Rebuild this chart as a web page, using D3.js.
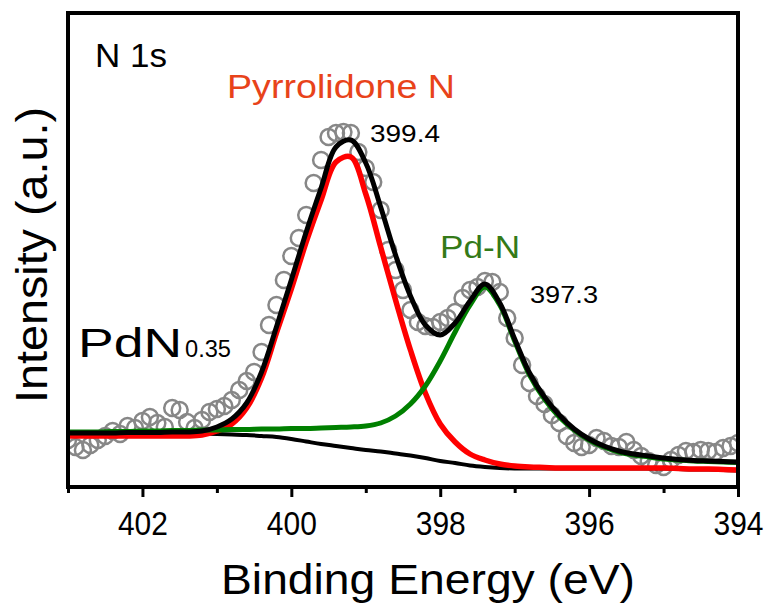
<!DOCTYPE html>
<html>
<head>
<meta charset="utf-8">
<script src="https://cdn.jsdelivr.net/npm/d3@7"></script>
<style>
  html, body { margin: 0; padding: 0; background: #fff; }
  svg { display: block; font-family: "Liberation Sans", Arial, sans-serif; }
</style>
</head>
<body>
<svg id="chart" width="779" height="607"></svg>
<script>
// N 1s spectrum of PdN0.35, binding energy (eV) vs intensity (a.u.)
const dataEV = [403.0, 402.9, 402.8, 402.7, 402.6, 402.5, 402.4, 402.3, 402.2, 402.1,
  402.0, 401.9, 401.8, 401.7, 401.6, 401.5, 401.4, 401.3, 401.2, 401.1,
  401.0, 400.9, 400.8, 400.7, 400.6, 400.5, 400.4, 400.3, 400.2, 400.1,
  400.0, 399.9, 399.8, 399.7, 399.6, 399.5, 399.4, 399.3, 399.2, 399.1,
  399.0, 398.9, 398.8, 398.7, 398.6, 398.5, 398.4, 398.3, 398.2, 398.1,
  398.0, 397.9, 397.8, 397.7, 397.6, 397.5, 397.4, 397.3, 397.2, 397.1,
  397.0, 396.9, 396.8, 396.7, 396.6, 396.5, 396.4, 396.3, 396.2, 396.1,
  396.0, 395.9, 395.8, 395.7, 395.6, 395.5, 395.4, 395.3, 395.2, 395.1,
  395.0, 394.9, 394.8, 394.7, 394.6, 394.5, 394.4, 394.3, 394.2, 394.1, 394.0];
const dataCounts = [47, 40, 37, 42, 47, 51, 56, 53, 61, 59,
  66, 70, 64, 60, 79, 77, 65, 59, 67, 75,
  78, 81, 87, 97, 106, 115, 135, 162, 182, 207,
  231, 249, 272, 304, 327, 350, 354, 355, 354, 335,
  319, 305, 277, 237, 217, 197, 177, 165, 161, 160,
  165, 169, 175, 189, 197, 200, 206, 205, 195, 169,
  149, 122, 104, 91, 83, 72, 64, 51, 44, 40,
  42, 49, 46, 41, 40, 45, 37, 31, 26, 22,
  20, 27, 32, 36, 35, 37, 36, 35, 39, 41, 44];

// fitted curves
const fitEV = [403.0, 402.8, 402.6, 402.4, 402.2, 402.0, 401.8, 401.6, 401.4, 401.2,
  401.0, 400.8, 400.6, 400.4, 400.2, 400.0, 399.8, 399.6, 399.4, 399.2,
  399.0, 398.8, 398.6, 398.4, 398.2, 398.0, 397.8, 397.6, 397.4, 397.2,
  397.0, 396.8, 396.6, 396.4, 396.2, 396.0, 395.8, 395.6, 395.4, 395.2,
  395.0, 394.8, 394.6, 394.4, 394.2, 394.0];
const envelope = [54, 54, 54, 54, 54.5, 54.5, 54.5, 55, 55, 56,
  60, 68, 84, 115, 160, 207, 255, 299, 340, 347,
  324, 280, 232, 191, 162, 152, 164, 186, 203, 184,
  148, 114, 90, 72, 58, 48, 41, 36, 33, 31,
  29, 27.5, 26.5, 26, 25.5, 25];
const pyrrolidoneN = [51, 51, 51, 51, 51, 51, 51, 51, 51, 52,
  56, 63, 79, 109, 154, 198, 245, 287, 325, 330,
  293, 240, 187, 137, 94, 63, 45, 33, 27, 23,
  21, 20, 19.5, 19, 19, 19, 19, 19, 19, 19,
  19, 18.5, 18, 18, 17.5, 17];
const pdN = [55, 55, 55, 55.5, 55.5, 56, 56, 56.5, 56.5, 57,
  57, 57.5, 57.5, 58, 58, 58.5, 58.5, 59, 59.5, 60,
  61, 64, 71, 83, 101, 126, 155, 182, 200, 182,
  146, 112, 88, 70, 57, 47, 40, 35, 32, 30,
  28, 27, 26, 25.5, 25, 24.5];
const background = [55, 55, 55, 55, 54.5, 54.5, 54.5, 54, 54, 53.5,
  53, 52.5, 52, 51, 50, 48, 45.5, 43, 41, 39,
  37, 35.5, 33.5, 31.5, 29, 26, 24, 21.5, 20, 19,
  18.5, 18.5, 18.5, 18.5, 18.5, 18.5, 18.5, 18.5, 18.5, 18.5,
  18.5, 18, 17.5, 17.5, 17, 16.5];

const majorTicks = [402, 400, 398, 396, 394];
const minorTicks = [403, 401, 399, 397, 395];

const svg = d3.select('#chart');
const plotLeft = 68, plotRight = 738, plotTop = 13, plotBottom = 487;

const x = d3.scaleLinear().domain([403, 394]).range([plotLeft, plotRight]);
const y = d3.scaleLinear().domain([0, 474]).range([plotBottom, plotTop]);

svg.append('defs').append('clipPath').attr('id', 'plotClip')
  .append('rect')
  .attr('x', plotLeft).attr('y', plotTop)
  .attr('width', plotRight - plotLeft).attr('height', plotBottom - plotTop);

const plot = svg.append('g').attr('clip-path', 'url(#plotClip)');

// measured points
plot.append('g').selectAll('circle')
  .data(dataEV)
  .enter()
  .append('circle')
  .attr('cx', (d) => x(d))
  .attr('cy', (d, i) => y(dataCounts[i]))
  .attr('r', 8)
  .attr('fill', 'none')
  .attr('stroke', '#878787')
  .attr('stroke-width', 2.5);

const line = (vals) => d3.line()
  .x((d) => x(d))
  .y((d, i) => y(vals[i]))
  .curve(d3.curveCatmullRom.alpha(0.5))(fitEV);

// background, components, envelope
plot.append('path').attr('d', line(background))
  .attr('fill', 'none').attr('stroke', '#000').attr('stroke-width', 4);
plot.append('path').attr('d', line(pyrrolidoneN))
  .attr('fill', 'none').attr('stroke', '#ff0000').attr('stroke-width', 5.5);
plot.append('path').attr('d', line(pdN))
  .attr('fill', 'none').attr('stroke', '#008000').attr('stroke-width', 5);
plot.append('path').attr('d', line(envelope))
  .attr('fill', 'none').attr('stroke', '#000').attr('stroke-width', 5);

// axes
const xAxis = svg.append('g')
  .attr('transform', `translate(0,${plotBottom})`)
  .call(d3.axisBottom(x).tickValues(majorTicks).tickSize(10).tickFormat(d3.format('d')));
xAxis.select('.domain').remove();
xAxis.selectAll('line').attr('stroke', '#000').attr('stroke-width', 3);
xAxis.selectAll('text')
  .attr('y', 48).attr('dy', 0)
  .attr('fill', '#000')
  .attr('textLength', 50).attr('lengthAdjust', 'spacingAndGlyphs')
  .style('font-size', '34px')
  .style('font-family', '"Liberation Sans", Arial, sans-serif');

const xMinor = svg.append('g')
  .attr('transform', `translate(0,${plotBottom})`)
  .call(d3.axisBottom(x).tickValues(minorTicks).tickSize(6).tickFormat(''));
xMinor.select('.domain').remove();
xMinor.selectAll('line').attr('stroke', '#000').attr('stroke-width', 3);

// frame
svg.append('rect')
  .attr('x', plotLeft).attr('y', plotTop)
  .attr('width', plotRight - plotLeft).attr('height', plotBottom - plotTop)
  .attr('fill', 'none').attr('stroke', '#000').attr('stroke-width', 4);

// axis titles
svg.append('text')
  .attr('x', 428).attr('y', 594)
  .attr('text-anchor', 'middle')
  .attr('textLength', 414).attr('lengthAdjust', 'spacingAndGlyphs')
  .style('font-size', '42px')
  .text('Binding Energy (eV)');

svg.append('text')
  .attr('transform', 'translate(47,255) rotate(-90)')
  .attr('text-anchor', 'middle')
  .attr('textLength', 296).attr('lengthAdjust', 'spacingAndGlyphs')
  .style('font-size', '44px')
  .text('Intensity (a.u.)');

// annotations
svg.append('text').attr('x', 95).attr('y', 67)
  .attr('textLength', 72).attr('lengthAdjust', 'spacingAndGlyphs')
  .style('font-size', '33px').text('N 1s');

svg.append('text').attr('x', 227).attr('y', 98)
  .attr('textLength', 228).attr('lengthAdjust', 'spacingAndGlyphs')
  .attr('fill', '#e8431a')
  .style('font-size', '33px').text('Pyrrolidone N');

svg.append('text').attr('x', 370).attr('y', 142)
  .attr('textLength', 70).attr('lengthAdjust', 'spacingAndGlyphs')
  .style('font-size', '24px').text('399.4');

svg.append('text').attr('x', 440).attr('y', 258)
  .attr('textLength', 80).attr('lengthAdjust', 'spacingAndGlyphs')
  .attr('fill', '#347a18')
  .style('font-size', '31px').text('Pd-N');

svg.append('text').attr('x', 530).attr('y', 303)
  .attr('textLength', 68).attr('lengthAdjust', 'spacingAndGlyphs')
  .style('font-size', '24px').text('397.3');

const formula = svg.append('text').attr('x', 78).attr('y', 357);
formula.append('tspan')
  .attr('textLength', 104).attr('lengthAdjust', 'spacingAndGlyphs')
  .style('font-size', '40px').text('PdN');
formula.append('tspan')
  .attr('dx', 3)
  .attr('textLength', 46).attr('lengthAdjust', 'spacingAndGlyphs')
  .style('font-size', '24px').text('0.35');
</script>
</body>
</html>
